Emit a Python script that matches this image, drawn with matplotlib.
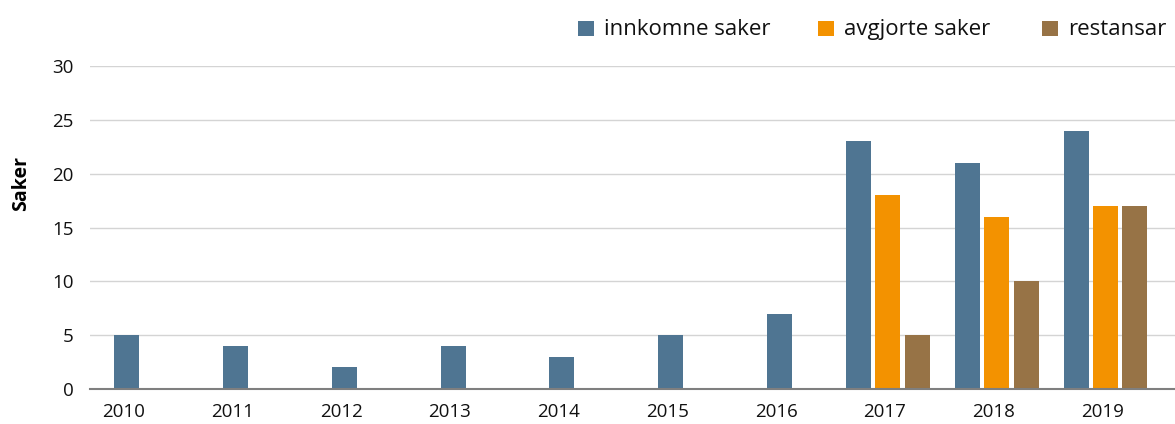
import matplotlib
matplotlib.use("Agg")
import matplotlib.pyplot as plt
import numpy as np
from matplotlib.patches import Rectangle

years = ["2010", "2011", "2012", "2013", "2014", "2015", "2016", "2017", "2018", "2019"]
innkomne = [5, 4, 2, 4, 3, 5, 7, 23, 21, 24]
avgjorte = [None, None, None, None, None, None, None, 18, 16, 17]
restansar = [None, None, None, None, None, None, None, 5, 10, 17]

series_names = ["innkomne saker", "avgjorte saker", "restansar"]
colors = ["#4f7592", "#f39200", "#977346"]

plt.rcParams['font.family'] = ['Open Sans', 'DejaVu Sans']

W, H = 1175, 424
fig = plt.figure(figsize=(W / 100, H / 100), dpi=100)
ax = fig.add_axes([90 / W, 1 - 389 / H, 1 - 90 / W, (389 - 66) / H])

width = 0.23
offset = 0.27
allseries = [innkomne, avgjorte, restansar]
for i in range(len(years)):
    present = [k for k in range(3) if allseries[k][i] is not None]
    n = len(present)
    for j, k in enumerate(present):
        pos = i + (j - (n - 1) / 2) * offset
        ax.bar(pos, allseries[k][i], width=width, color=colors[k], zorder=3)

ax.set_xlim(-0.34, 9.64)
ax.set_ylim(0, 30)
ax.set_yticks(range(0, 31, 5))
ax.set_xticks(np.arange(len(years)) - 0.03)
ax.set_xticklabels(years)
ax.tick_params(axis='both', length=0, labelsize=13.5, colors='#111111')
ax.tick_params(axis='y', pad=12)
ax.tick_params(axis='x', pad=10)
ax.grid(axis='y', color='#d4d4d4', linewidth=1, zorder=0)
for s in ['top', 'right', 'left']:
    ax.spines[s].set_visible(False)
ax.spines['bottom'].set_color('#7f7f7f')
ax.spines['bottom'].set_linewidth(1.5)
ax.spines['bottom'].set_zorder(4)
ax.set_ylabel("Saker", fontsize=14, fontweight='bold')
ax.yaxis.set_label_coords((31 - 90) / (W - 90), (389 - 183) / (389 - 66))

# legend drawn in figure pixel positions
leg_x = [578, 818, 1042]
for x0, c, name in zip(leg_x, colors, series_names):
    fig.add_artist(Rectangle((x0 / W, 1 - 36 / H), 16 / W, 15 / H,
                             transform=fig.transFigure, facecolor=c, edgecolor='none'))
    fig.text((x0 + 26) / W, 1 - 35 / H, name, fontsize=16, color='#111111',
             va='baseline', ha='left')

fig.savefig("out.png", dpi=100)
